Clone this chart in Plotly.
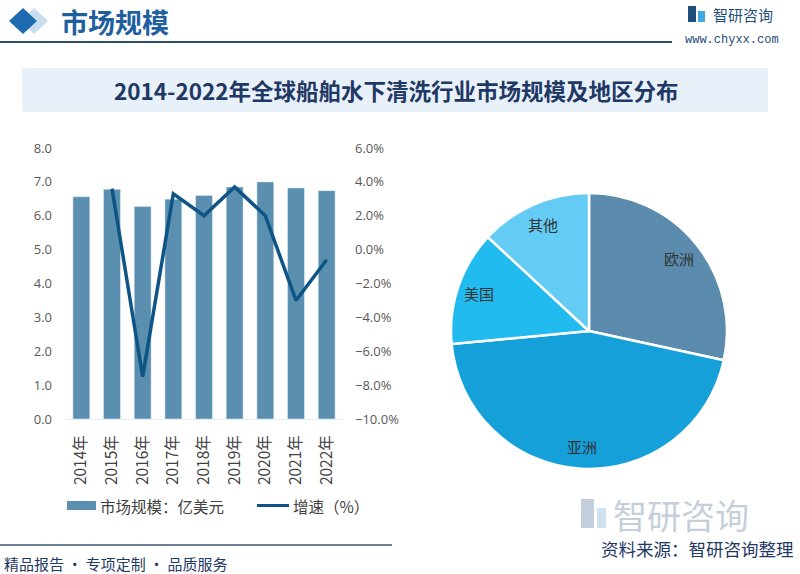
import math
import plotly.graph_objects as go

years = ["2014年", "2015年", "2016年", "2017年", "2018年", "2019年", "2020年", "2021年", "2022年"]
market_size = [6.56, 6.78, 6.27, 6.49, 6.60, 6.85, 7.00, 6.82, 6.74]
growth_years = ["2015年", "2016年", "2017年", "2018年", "2019年", "2020年", "2021年", "2022年"]
growth_pct = [3.6, -7.5, 3.3, 2.0, 3.7, 2.0, -3.0, -0.6]
regions = ["欧洲", "亚洲", "美国", "其他"]
region_share = [28.4, 45.1, 13.4, 13.1]
pie_colors = ["#5B8CAD", "#15A0DA", "#22BBEF", "#63CBF4"]

FONT = "Noto Sans CJK SC"
W, H = 800, 574
BAR_COLOR = "#5A8FB0"
LINE_COLOR = "#0E5585"
NAVY = "#1F3864"

def px(x):
    return x / W

def py(y):
    return 1 - y / H

PCX, PCY, PR = 589, 331, 138

fig = go.Figure()

fig.add_trace(go.Bar(
    x=years, y=market_size, name="市场规模：亿美元",
    marker=dict(color=BAR_COLOR), width=0.55,
    xaxis="x", yaxis="y", showlegend=False,
))
fig.add_trace(go.Scatter(
    x=growth_years, y=growth_pct, name="增速（%）", mode="lines",
    line=dict(color=LINE_COLOR, width=3.5),
    xaxis="x", yaxis="y2", showlegend=False,
))
fig.add_trace(go.Pie(
    labels=regions, values=region_share, sort=False, direction="clockwise",
    rotation=0, textinfo="none",
    marker=dict(colors=pie_colors, line=dict(color="white", width=2.5)),
    domain=dict(x=[px(PCX - PR), px(PCX + PR)], y=[py(PCY + PR), py(PCY - PR)]),
    showlegend=False, hoverinfo="label+percent",
))

shapes = [
    dict(type="rect", xref="paper", yref="paper", x0=px(22), x1=px(768), y0=py(112), y1=py(68),
         fillcolor="#E8F1FA", line=dict(width=0), layer="below"),
    dict(type="line", xref="paper", yref="paper", x0=0, x1=px(672), y0=py(42), y1=py(42),
         line=dict(color="#2D4D6E", width=2)),
    dict(type="line", xref="paper", yref="paper", x0=0, x1=px(392), y0=py(545), y1=py(545),
         line=dict(color="#6B7F95", width=2)),
    dict(type="path", xref="paper", yref="paper",
         path=f"M {px(34)},{py(8)} L {px(48)},{py(21)} L {px(34)},{py(34)} L {px(20)},{py(21)} Z",
         fillcolor="#C9DDF0", line=dict(width=0)),
    dict(type="path", xref="paper", yref="paper",
         path=f"M {px(23)},{py(8)} L {px(37)},{py(21)} L {px(23)},{py(34)} L {px(9)},{py(21)} Z",
         fillcolor="#1E6AAE", line=dict(width=0)),
    dict(type="rect", xref="paper", yref="paper", x0=px(688), x1=px(696), y0=py(22), y1=py(6),
         fillcolor="#1F4E79", line=dict(width=0)),
    dict(type="rect", xref="paper", yref="paper", x0=px(698), x1=px(705), y0=py(22), y1=py(11),
         fillcolor="#3FA9E0", line=dict(width=0)),
    dict(type="rect", xref="paper", yref="paper", x0=px(581), x1=px(594), y0=py(528), y1=py(499),
         fillcolor="#C3CFDC", line=dict(width=0)),
    dict(type="rect", xref="paper", yref="paper", x0=px(597), x1=px(606), y0=py(528), y1=py(508),
         fillcolor="#CFE2F2", line=dict(width=0)),
    dict(type="rect", xref="paper", yref="paper", x0=px(67), x1=px(96), y0=py(510), y1=py(501),
         fillcolor=BAR_COLOR, line=dict(width=0)),
    dict(type="line", xref="paper", yref="paper", x0=px(257), x1=px(289), y0=py(505.5), y1=py(505.5),
         line=dict(color=LINE_COLOR, width=3)),
]

annotations = [
    dict(text="<b>市场规模</b>", x=px(59), y=py(21), xref="paper", yref="paper", xanchor="left", yanchor="middle",
         showarrow=False, font=dict(family=FONT, size=27, color="#1F5FA0")),
    dict(text="<b>2014-2022年全球船舶水下清洗行业市场规模及地区分布</b>", x=px(396), y=py(90), xref="paper", yref="paper",
         xanchor="center", yanchor="middle", showarrow=False, font=dict(family=FONT, size=22.5, color=NAVY)),
    dict(text="智研咨询", x=px(711), y=py(14), xref="paper", yref="paper", xanchor="left", yanchor="middle",
         showarrow=False, font=dict(family=FONT, size=15, color="#1F4E79")),
    dict(text="www.chyxx.com", x=px(781), y=py(40), xref="paper", yref="paper", xanchor="right", yanchor="middle",
         showarrow=False, font=dict(family="Liberation Mono", size=12, color="#1F4E79")),
    dict(text="智研咨询", x=px(611), y=py(514), xref="paper", yref="paper", xanchor="left", yanchor="middle",
         showarrow=False, font=dict(family=FONT, size=34, color="#C5CFDB")),
    dict(text="资料来源：智研咨询整理", x=px(796), y=py(548), xref="paper", yref="paper", xanchor="right", yanchor="middle",
         showarrow=False, font=dict(family=FONT, size=17.5, color=NAVY)),
    dict(text="精品报告 · 专项定制 · 品质服务", x=px(2), y=py(563), xref="paper", yref="paper", xanchor="left", yanchor="middle",
         showarrow=False, font=dict(family=FONT, size=15, color=NAVY)),
    dict(text="市场规模：亿美元", x=px(98), y=py(505.5), xref="paper", yref="paper", xanchor="left", yanchor="middle",
         showarrow=False, font=dict(family=FONT, size=15.5, color="#404040")),
    dict(text="增速（%）", x=px(291), y=py(505.5), xref="paper", yref="paper", xanchor="left", yanchor="middle",
         showarrow=False, font=dict(family=FONT, size=15.5, color="#404040")),
]

total = sum(region_share)
cum = 0.0
for name, val in zip(regions, region_share):
    mid = (cum + val / 2) / total * 2 * math.pi
    cum += val
    lx = PCX + 0.84 * PR * math.sin(mid)
    ly = PCY - 0.84 * PR * math.cos(mid)
    annotations.append(dict(text=name, x=px(lx), y=py(ly), xref="paper", yref="paper",
                            xanchor="center", yanchor="middle", showarrow=False,
                            font=dict(family=FONT, size=15, color="#333333")))

fig.update_layout(
    width=W, height=H,
    margin=dict(l=0, r=0, t=0, b=0, pad=0, autoexpand=False),
    paper_bgcolor="white", plot_bgcolor="rgba(0,0,0,0)",
    font=dict(family=FONT, color="#595959"),
    shapes=shapes, annotations=annotations,
    showlegend=False,
    xaxis=dict(domain=[px(66), px(342)], anchor="y", tickangle=-90, showgrid=False,
               showline=True, linecolor="#E6EEF5", linewidth=1, ticks="", ticklabelstandoff=9,
               tickfont=dict(family=FONT, size=15.5, color="#404040"), automargin=False,
               categoryorder="array", categoryarray=years),
    yaxis=dict(domain=[py(419), py(148)], range=[0, 8], dtick=1, tickformat=".1f",
               showgrid=False, zeroline=False, ticks="", ticklabelstandoff=13, automargin=False,
               tickfont=dict(family="Open Sans", size=13, color="#595959")),
    yaxis2=dict(overlaying="y", side="right", anchor="x", range=[-10, 6], dtick=2, ticksuffix="%",
                tickformat=".1f", showgrid=False, zeroline=False, ticks="", ticklabelstandoff=12,
                automargin=False, tickfont=dict(family="Open Sans", size=13, color="#595959")),
)

fig.write_html("out.html", config={"displayModeBar": False},
               post_script="document.body.style.margin='0';document.body.style.overflow='hidden';")
